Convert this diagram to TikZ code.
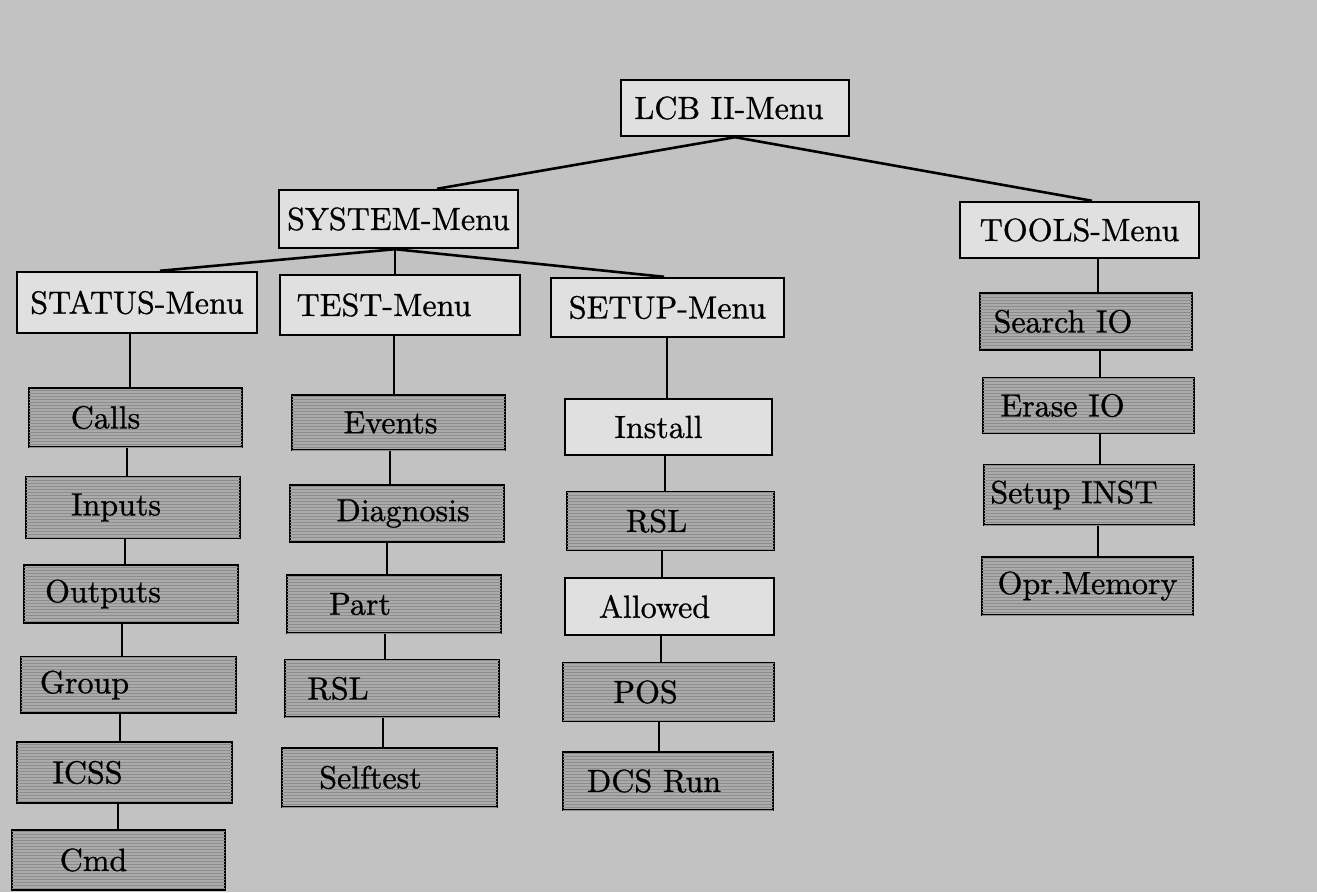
\documentclass[tikz,border=0pt]{standalone}
\usepackage{fontspec}
\setmainfont{lmroman10-regular.otf}[FakeBold=0.8]
\usetikzlibrary{patterns}
\tikzset{
  box/.style={draw=black, line width=2.4pt, inner sep=0pt, align=center,
    font=\fontsize{32}{36}\selectfont},
  wbox/.style={box, fill=black!12},
  hbox/.style={box, fill=black!33, postaction={pattern=horizontal lines, pattern color=black!45}},
  mainline/.style={line width=2.6pt},
  subline/.style={line width=1.5pt},
  tline/.style={line width=2.0pt},
}
\newcommand{\tsh}[2]{\hspace*{#1}\hspace*{#1}#2}
\begin{document}
\begin{tikzpicture}[x=1pt,y=-1pt]
\fill[black!24] (0,0) rectangle (1317,892);
\useasboundingbox (0,0) rectangle (1317,892);

% top level
\node[wbox, minimum width=228pt, minimum height=56pt] (lcb) at (735,108) {\tsh{-6pt}{LCB II-Menu}};
\node[wbox, minimum width=239pt, minimum height=58pt] (sys) at (398.5,219) {SYSTEM-Menu};
\node[wbox, minimum width=239pt, minimum height=56pt] (tools) at (1079.5,230) {TOOLS-Menu};

% second level
\node[wbox, minimum width=240pt, minimum height=61pt] (status) at (137,302.5) {STATUS-Menu};
\node[wbox, minimum width=240pt, minimum height=60pt] (test) at (400,305) {\tsh{-16pt}{TEST-Menu}};
\node[wbox, minimum width=233pt, minimum height=59pt] (setup) at (667.5,307.5) {SETUP-Menu};

% STATUS column
\node[hbox, minimum width=213pt, minimum height=59pt] (calls) at (135.5,417.5) {\tsh{-30pt}{Calls}};
\node[hbox, minimum width=214pt, minimum height=61pt] (inputs) at (133,507.5) {\tsh{-17pt}{Inputs}};
\node[hbox, minimum width=214pt, minimum height=58pt] (outputs) at (131,594) {\tsh{-28pt}{Outputs}};
\node[hbox, minimum width=215pt, minimum height=56pt] (group) at (128.5,685) {\tsh{-44pt}{Group}};
\node[hbox, minimum width=215pt, minimum height=61pt] (icss) at (124.5,772.5) {\tsh{-37pt}{ICSS}};
\node[hbox, minimum width=213pt, minimum height=60pt] (cmd) at (118.5,860) {\tsh{-25pt}{Cmd}};

% TEST column
\node[hbox, minimum width=213pt, minimum height=55pt] (events) at (398.5,422.5) {\tsh{-8pt}{Events}};
\node[hbox, minimum width=214pt, minimum height=57pt] (diag) at (397,513.5) {\tsh{6pt}{Diagnosis}};
\node[hbox, minimum width=214pt, minimum height=58pt] (part) at (394,604) {\tsh{-34pt}{Part}};
\node[hbox, minimum width=214pt, minimum height=57pt] (rsla) at (392,688.5) {\tsh{-54pt}{RSL}};
\node[hbox, minimum width=215pt, minimum height=59pt] (self) at (389.5,777.5) {\tsh{-19pt}{Selftest}};

% SETUP column
\node[wbox, minimum width=207pt, minimum height=56pt] (install) at (668.5,427) {\tsh{-10pt}{Install}};
\node[hbox, minimum width=207pt, minimum height=58pt] (rslb) at (670.5,521) {\tsh{-14pt}{RSL}};
\node[wbox, minimum width=209pt, minimum height=57pt] (allowed) at (669.5,606.5) {\tsh{-15pt}{Allowed}};
\node[hbox, minimum width=211pt, minimum height=58pt] (pos) at (668.5,692) {\tsh{-23pt}{POS}};
\node[hbox, minimum width=210pt, minimum height=58pt] (dcs) at (668,781) {\tsh{-14pt}{DCS Run}};

% TOOLS column
\node[hbox, minimum width=212pt, minimum height=57pt] (search) at (1086,321.5) {\tsh{-23pt}{Search IO}};
\node[hbox, minimum width=211pt, minimum height=55pt] (erase) at (1088.5,405.5) {\tsh{-26pt}{Erase IO}};
\node[hbox, minimum width=210pt, minimum height=60pt] (sinst) at (1089,495) {\tsh{-15pt}{Setup INST}};
\node[hbox, minimum width=211pt, minimum height=58pt] (opr) at (1087.5,586) {Opr.Memory};

% connectors from the top
\draw[mainline] (lcb.south) -- ([xshift=38.5pt]sys.north);
\draw[mainline] (lcb.south) -- ([xshift=12.5pt]tools.north);
\draw[mainline] ([xshift=-3.5pt]sys.south) -- ([xshift=23pt]status.north);
\draw[mainline] ([xshift=-3.5pt]sys.south) -- ([xshift=-3.5pt]setup.north);
\draw[tline] ([xshift=-5pt]test.north) -- ([xshift=-5pt]test.north |- sys.south);

% STATUS column
\draw[subline] ([xshift=-5.5pt]calls.north) -- ([xshift=-5.5pt]calls.north |- status.south);
\draw[subline] ([xshift=-6pt]inputs.north) -- ([xshift=-6pt]inputs.north |- calls.south);
\draw[subline] ([xshift=-6pt]outputs.north) -- ([xshift=-6pt]outputs.north |- inputs.south);
\draw[subline] ([xshift=-6.5pt]group.north) -- ([xshift=-6.5pt]group.north |- outputs.south);
\draw[subline] ([xshift=-4.5pt]icss.north) -- ([xshift=-4.5pt]icss.north |- group.south);
\draw[subline] ([xshift=-0.5pt]cmd.north) -- ([xshift=-0.5pt]cmd.north |- icss.south);

% TEST column
\draw[tline] ([xshift=-4.5pt]events.north) -- ([xshift=-4.5pt]events.north |- test.south);
\draw[tline] ([xshift=-7pt]diag.north) -- ([xshift=-7pt]diag.north |- events.south);
\draw[tline] ([xshift=-7pt]part.north) -- ([xshift=-7pt]part.north |- diag.south);
\draw[tline] ([xshift=-7pt]rsla.north) -- ([xshift=-7pt]rsla.north |- part.south);
\draw[tline] ([xshift=-6.5pt]self.north) -- ([xshift=-6.5pt]self.north |- rsla.south);

% SETUP column
\draw[tline] ([xshift=-1.5pt]install.north) -- ([xshift=-1.5pt]install.north |- setup.south);
\draw[tline] ([xshift=-5.5pt]rslb.north) -- ([xshift=-5.5pt]rslb.north |- install.south);
\draw[tline] ([xshift=-7.5pt]allowed.north) -- ([xshift=-7.5pt]allowed.north |- rslb.south);
\draw[tline] ([xshift=-7.5pt]pos.north) -- ([xshift=-7.5pt]pos.north |- allowed.south);
\draw[subline] ([xshift=-9pt]dcs.north) -- ([xshift=-9pt]dcs.north |- pos.south);

% TOOLS column
\draw[subline] ([xshift=12pt]search.north) -- ([xshift=12pt]search.north |- tools.south);
\draw[subline] ([xshift=11.5pt]erase.north) -- ([xshift=11.5pt]erase.north |- search.south);
\draw[tline] ([xshift=11pt]sinst.north) -- ([xshift=11pt]sinst.north |- erase.south);
\draw[subline] ([xshift=10.5pt]opr.north) -- ([xshift=10.5pt]opr.north |- sinst.south);
\end{tikzpicture}
\end{document}
